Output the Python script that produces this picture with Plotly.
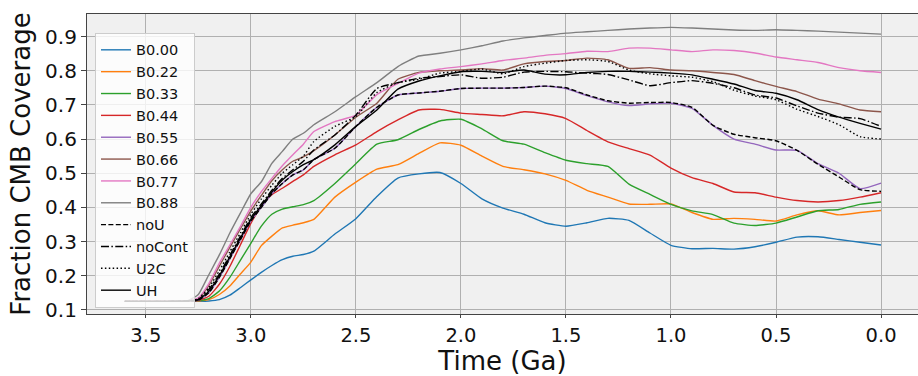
import plotly.graph_objects as go

time_ga = [3.6, 3.5, 3.4, 3.3, 3.25, 3.2, 3.15, 3.1, 3.05, 3.0, 2.95, 2.9, 2.85, 2.8, 2.75, 2.7,
           2.6, 2.5, 2.4, 2.3, 2.2, 2.1, 2.0, 1.9, 1.8, 1.7, 1.6, 1.5, 1.4, 1.3, 1.2, 1.1,
           1.0, 0.9, 0.8, 0.7, 0.6, 0.5, 0.4, 0.3, 0.2, 0.1, 0.0]

b000 = [0.125, 0.125, 0.125, 0.125, 0.125, 0.126, 0.130, 0.143, 0.165, 0.188, 0.210, 0.230, 0.247, 0.257, 0.262, 0.272,
        0.322, 0.367, 0.432, 0.486, 0.498, 0.502, 0.470, 0.425, 0.398, 0.380, 0.355, 0.345, 0.355, 0.368, 0.362, 0.325,
        0.289, 0.279, 0.280, 0.278, 0.285, 0.298, 0.313, 0.314, 0.306, 0.298, 0.290]
b022 = [0.125, 0.125, 0.125, 0.125, 0.126, 0.130, 0.145, 0.170, 0.205, 0.240, 0.288, 0.316, 0.340, 0.348, 0.355, 0.365,
        0.430, 0.474, 0.512, 0.525, 0.558, 0.589, 0.582, 0.550, 0.520, 0.510, 0.498, 0.479, 0.450, 0.430, 0.410, 0.409,
        0.410, 0.385, 0.365, 0.368, 0.365, 0.360, 0.378, 0.390, 0.378, 0.385, 0.391]
b033 = [0.125, 0.125, 0.125, 0.126, 0.127, 0.133, 0.155, 0.195, 0.245, 0.295, 0.345, 0.380, 0.395, 0.402, 0.408, 0.420,
        0.470, 0.528, 0.585, 0.598, 0.628, 0.653, 0.658, 0.630, 0.595, 0.585, 0.560, 0.538, 0.528, 0.520, 0.468, 0.438,
        0.409, 0.390, 0.379, 0.354, 0.347, 0.354, 0.372, 0.390, 0.394, 0.409, 0.416]
b044 = [0.125, 0.125, 0.125, 0.126, 0.128, 0.140, 0.175, 0.227, 0.290, 0.353, 0.403, 0.437, 0.456, 0.476, 0.495, 0.520,
        0.554, 0.583, 0.622, 0.656, 0.685, 0.687, 0.676, 0.672, 0.668, 0.680, 0.674, 0.660, 0.625, 0.592, 0.572, 0.553,
        0.515, 0.487, 0.470, 0.445, 0.443, 0.430, 0.420, 0.416, 0.420, 0.430, 0.443]
b055 = [0.125, 0.125, 0.125, 0.126, 0.128, 0.150, 0.195, 0.250, 0.305, 0.360, 0.400, 0.440, 0.470, 0.495, 0.510, 0.540,
        0.573, 0.637, 0.693, 0.729, 0.735, 0.740, 0.748, 0.749, 0.749, 0.751, 0.755, 0.748, 0.727, 0.709, 0.698, 0.703,
        0.705, 0.690, 0.640, 0.600, 0.585, 0.568, 0.567, 0.528, 0.500, 0.455, 0.471]
b066 = [0.125, 0.125, 0.125, 0.126, 0.133, 0.172, 0.228, 0.283, 0.337, 0.390, 0.435, 0.478, 0.510, 0.535, 0.548, 0.566,
        0.612, 0.664, 0.705, 0.775, 0.795, 0.800, 0.802, 0.806, 0.802, 0.820, 0.827, 0.830, 0.837, 0.832, 0.807, 0.809,
        0.802, 0.800, 0.795, 0.789, 0.771, 0.754, 0.739, 0.717, 0.703, 0.685, 0.680]
b077 = [0.125, 0.125, 0.125, 0.126, 0.135, 0.177, 0.237, 0.290, 0.344, 0.400, 0.446, 0.485, 0.522, 0.554, 0.585, 0.622,
        0.651, 0.670, 0.730, 0.763, 0.793, 0.805, 0.812, 0.820, 0.830, 0.837, 0.845, 0.850, 0.857, 0.856, 0.866, 0.866,
        0.861, 0.856, 0.861, 0.859, 0.852, 0.840, 0.832, 0.824, 0.809, 0.800, 0.795]
b088 = [0.125, 0.125, 0.125, 0.127, 0.145, 0.203, 0.261, 0.325, 0.383, 0.440, 0.475, 0.529, 0.564, 0.600, 0.617, 0.642,
        0.680, 0.724, 0.765, 0.812, 0.843, 0.851, 0.861, 0.873, 0.887, 0.896, 0.903, 0.910, 0.914, 0.918, 0.922, 0.925,
        0.927, 0.925, 0.922, 0.919, 0.918, 0.920, 0.918, 0.916, 0.913, 0.910, 0.907]
no_u = [0.125, 0.125, 0.125, 0.126, 0.128, 0.150, 0.195, 0.250, 0.305, 0.360, 0.400, 0.440, 0.470, 0.495, 0.510, 0.540,
        0.573, 0.637, 0.693, 0.729, 0.735, 0.740, 0.748, 0.749, 0.749, 0.751, 0.755, 0.750, 0.729, 0.712, 0.705, 0.707,
        0.707, 0.693, 0.640, 0.614, 0.604, 0.595, 0.567, 0.526, 0.489, 0.452, 0.447]
no_cont = [0.125, 0.125, 0.125, 0.126, 0.130, 0.160, 0.205, 0.260, 0.315, 0.370, 0.410, 0.450, 0.485, 0.510, 0.535, 0.568,
           0.612, 0.670, 0.748, 0.765, 0.778, 0.783, 0.788, 0.778, 0.781, 0.796, 0.798, 0.797, 0.793, 0.789, 0.773, 0.756,
           0.765, 0.771, 0.763, 0.750, 0.729, 0.720, 0.697, 0.676, 0.664, 0.660, 0.637]
u2c = [0.125, 0.125, 0.125, 0.126, 0.133, 0.165, 0.215, 0.270, 0.325, 0.380, 0.425, 0.465, 0.500, 0.525, 0.550, 0.593,
       0.637, 0.666, 0.736, 0.765, 0.775, 0.793, 0.798, 0.805, 0.791, 0.812, 0.822, 0.830, 0.832, 0.827, 0.802, 0.791,
       0.785, 0.781, 0.768, 0.743, 0.726, 0.715, 0.687, 0.666, 0.642, 0.607, 0.600]
uh = [0.125, 0.125, 0.125, 0.126, 0.130, 0.155, 0.200, 0.255, 0.310, 0.365, 0.405, 0.445, 0.480, 0.505, 0.525, 0.540,
      0.583, 0.637, 0.685, 0.746, 0.770, 0.785, 0.797, 0.798, 0.795, 0.802, 0.790, 0.788, 0.795, 0.798, 0.798, 0.796,
      0.793, 0.788, 0.775, 0.761, 0.742, 0.734, 0.715, 0.686, 0.664, 0.646, 0.629]

series_names = ["B0.00", "B0.22", "B0.33", "B0.44", "B0.55", "B0.66", "B0.77", "B0.88",
                "noU", "noCont", "U2C", "UH"]
series_values = [b000, b022, b033, b044, b055, b066, b077, b088, no_u, no_cont, u2c, uh]
series_colors = ["#1f77b4", "#ff7f0e", "#2ca02c", "#d62728", "#9467bd", "#8c564b", "#e377c2", "#7f7f7f",
                 "black", "black", "black", "black"]
series_dash = ["solid"] * 8 + ["5px,2.4px", "8px,2.4px,1.5px,2.4px", "1.5px,2.4px", "solid"]

x_ticks = [3.5, 3.0, 2.5, 2.0, 1.5, 1.0, 0.5, 0.0]
y_ticks = [0.1, 0.2, 0.3, 0.4, 0.5, 0.6, 0.7, 0.8, 0.9]

fig = go.Figure()
for name, vals, col, dash in zip(series_names, series_values, series_colors, series_dash):
    fig.add_trace(go.Scatter(
        x=time_ga, y=vals, mode="lines", name=name,
        line=dict(color=col, width=1.4, dash=dash, shape="spline", smoothing=0.5),
    ))

font_family = "DejaVu Sans"
fig.update_layout(
    width=918, height=376,
    margin=dict(l=87, r=0, t=14, b=62),
    paper_bgcolor="white",
    plot_bgcolor="#f0f0f0",
    font=dict(family=font_family, color="#111"),
    showlegend=True,
    legend=dict(
        x=0.0096, y=0.937, xanchor="left", yanchor="top",
        bgcolor="rgba(255,255,255,0.8)", bordercolor="#cccccc", borderwidth=1,
        font=dict(size=14.5, family=font_family, color="#111"),
        tracegroupgap=0, itemwidth=30,
    ),
    xaxis=dict(
        range=[3.78, -0.176], tickvals=x_ticks, tickformat=".1f",
        showgrid=True, gridcolor="#b0b0b0", gridwidth=1,
        showline=True, linecolor="#444", linewidth=1.2, mirror=True,
        ticks="outside", ticklen=3, tickcolor="#444",
        tickfont=dict(size=19.5, family=font_family, color="#111"),
        title=dict(text="Time (Ga)", font=dict(size=26, family=font_family, color="#111"), standoff=5),
        zeroline=False,
    ),
    yaxis=dict(
        range=[0.088, 0.966], tickvals=y_ticks, tickformat=".1f",
        showgrid=True, gridcolor="#b0b0b0", gridwidth=1,
        showline=True, linecolor="#444", linewidth=1.2, mirror=False,
        ticks="outside", ticklen=5, tickcolor="#444",
        tickfont=dict(size=20, family=font_family, color="#111"),
        title=dict(text="Fraction CMB Coverage", font=dict(size=26, family=font_family, color="#111"), standoff=6),
        zeroline=False,
    ),
)

fig.write_html("out.html")
